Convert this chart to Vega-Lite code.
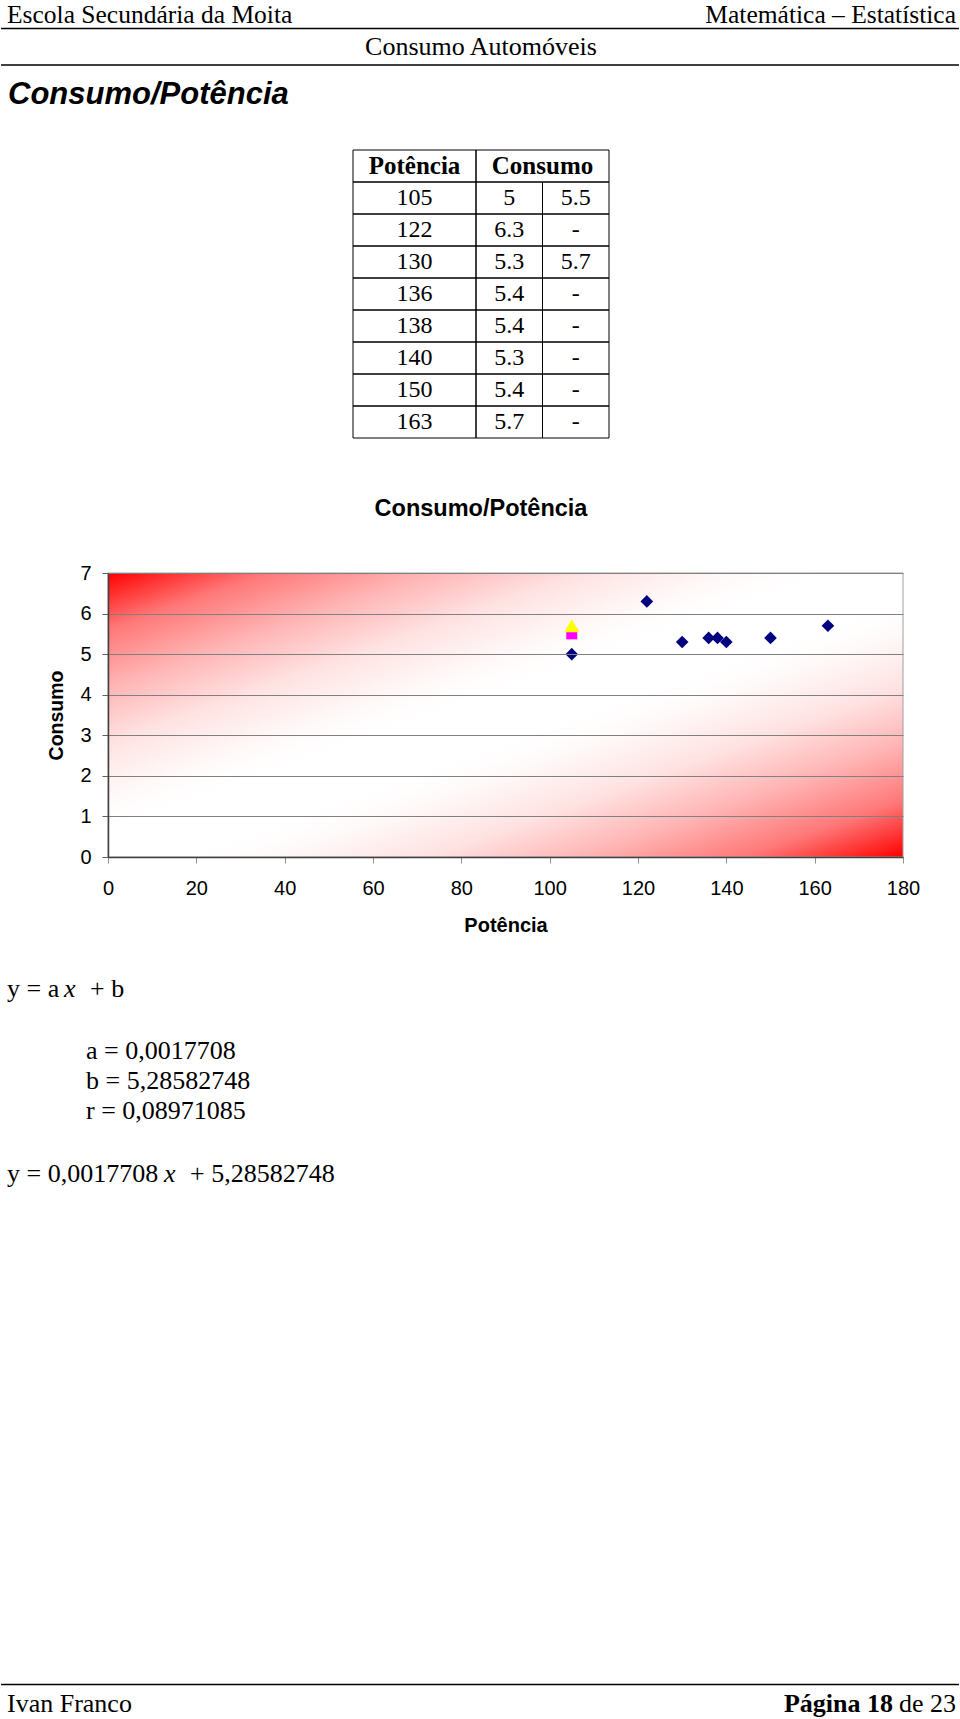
{
  "$schema": "https://vega.github.io/schema/vega-lite/v6.json",
  "padding": 0,
  "spacing": 0,
  "center": true,
  "bounds": "flush",
  "background": "white",
  "config": {
    "view": {"stroke": null},
    "text": {"font": "Liberation Serif", "fontSize": 26, "color": "black"}
  },
  "datasets": {
    "tabela": [
      {"potencia": 105, "c1": "5", "c2": "5.5"},
      {"potencia": 122, "c1": "6.3", "c2": "-"},
      {"potencia": 130, "c1": "5.3", "c2": "5.7"},
      {"potencia": 136, "c1": "5.4", "c2": "-"},
      {"potencia": 138, "c1": "5.4", "c2": "-"},
      {"potencia": 140, "c1": "5.3", "c2": "-"},
      {"potencia": 150, "c1": "5.4", "c2": "-"},
      {"potencia": 163, "c1": "5.7", "c2": "-"}
    ],
    "pontos": [
      {"potencia": 105, "consumo": 5, "serie": "Série 1"},
      {"potencia": 122, "consumo": 6.3, "serie": "Série 1"},
      {"potencia": 130, "consumo": 5.3, "serie": "Série 1"},
      {"potencia": 136, "consumo": 5.4, "serie": "Série 1"},
      {"potencia": 138, "consumo": 5.4, "serie": "Série 1"},
      {"potencia": 140, "consumo": 5.3, "serie": "Série 1"},
      {"potencia": 150, "consumo": 5.4, "serie": "Série 1"},
      {"potencia": 163, "consumo": 5.7, "serie": "Série 1"},
      {"potencia": 105, "consumo": 5.5, "serie": "Série 2"},
      {"potencia": 105, "consumo": 5.7, "serie": "Série 3"}
    ]
  },
  "vconcat": [
    {
      "width": 960,
      "height": 150,
      "data": {"values": [{}]},
      "layer": [
        {"mark": {"type": "text", "text": "Escola Secundária da Moita", "align": "left", "baseline": "alphabetic", "font": "Liberation Serif", "fontSize": 25.5},
         "encoding": {"x": {"value": 6}, "y": {"value": 22.8}}},
        {"mark": {"type": "text", "text": "Matemática – Estatística", "align": "right", "baseline": "alphabetic", "font": "Liberation Serif", "fontSize": 25.5},
         "encoding": {"x": {"value": 955}, "y": {"value": 22.8}}},
        {"mark": {"type": "rule", "color": "black", "strokeWidth": 1.5},
         "encoding": {"x": {"value": 0}, "x2": {"value": 958}, "y": {"value": 28.5}}},
        {"mark": {"type": "text", "text": "Consumo Automóveis", "align": "center", "baseline": "alphabetic", "font": "Liberation Serif", "fontSize": 26},
         "encoding": {"x": {"value": 480}, "y": {"value": 55}}},
        {"mark": {"type": "rule", "color": "black", "strokeWidth": 1.5},
         "encoding": {"x": {"value": 0}, "x2": {"value": 958}, "y": {"value": 65}}},
        {"mark": {"type": "text", "text": "Consumo/Potência", "align": "left", "baseline": "alphabetic", "font": "Liberation Sans", "fontSize": 31, "fontWeight": "bold", "fontStyle": "italic"},
         "encoding": {"x": {"value": 7}, "y": {"value": 103.5}}}
      ]
    },
    {
      "width": 256,
      "height": 423,
      "layer": [
        {
          "data": {"name": "tabela"},
          "mark": {"type": "rect", "filled": false, "color": "black", "strokeWidth": 1},
          "encoding": {
            "x": {"datum": 0, "type": "quantitative", "scale": {"domain": [0, 3.85], "nice": false, "zero": false}, "axis": null},
            "x2": {"datum": 1.85},
            "y": {"field": "potencia", "type": "ordinal", "scale": {"type": "band", "domain": ["cab", 105, 122, 130, 136, 138, 140, 150, 163], "paddingInner": 0, "paddingOuter": 0, "range": [0, 288]}, "axis": null}
          }
        },
        {
          "data": {"name": "tabela"},
          "mark": {"type": "rect", "filled": false, "color": "black", "strokeWidth": 1},
          "encoding": {
            "x": {"datum": 1.85, "type": "quantitative", "scale": {"domain": [0, 3.85], "nice": false, "zero": false}, "axis": null},
            "x2": {"datum": 2.85},
            "y": {"field": "potencia", "type": "ordinal", "scale": {"type": "band", "domain": ["cab", 105, 122, 130, 136, 138, 140, 150, 163], "paddingInner": 0, "paddingOuter": 0, "range": [0, 288]}, "axis": null}
          }
        },
        {
          "data": {"name": "tabela"},
          "mark": {"type": "rect", "filled": false, "color": "black", "strokeWidth": 1},
          "encoding": {
            "x": {"datum": 2.85, "type": "quantitative", "scale": {"domain": [0, 3.85], "nice": false, "zero": false}, "axis": null},
            "x2": {"datum": 3.85},
            "y": {"field": "potencia", "type": "ordinal", "scale": {"type": "band", "domain": ["cab", 105, 122, 130, 136, 138, 140, 150, 163], "paddingInner": 0, "paddingOuter": 0, "range": [0, 288]}, "axis": null}
          }
        },
        {
          "data": {"values": [{}]},
          "mark": {"type": "rect", "filled": false, "color": "black", "strokeWidth": 1},
          "encoding": {
            "x": {"datum": 0, "type": "quantitative", "scale": {"domain": [0, 3.85], "nice": false, "zero": false}, "axis": null},
            "x2": {"datum": 1.85},
            "y": {"datum": "cab", "type": "ordinal", "scale": {"type": "band", "domain": ["cab", 105, 122, 130, 136, 138, 140, 150, 163], "paddingInner": 0, "paddingOuter": 0, "range": [0, 288]}, "axis": null}
          }
        },
        {
          "data": {"values": [{}]},
          "mark": {"type": "rect", "filled": false, "color": "black", "strokeWidth": 1},
          "encoding": {
            "x": {"datum": 1.85, "type": "quantitative", "scale": {"domain": [0, 3.85], "nice": false, "zero": false}, "axis": null},
            "x2": {"datum": 3.85},
            "y": {"datum": "cab", "type": "ordinal", "scale": {"type": "band", "domain": ["cab", 105, 122, 130, 136, 138, 140, 150, 163], "paddingInner": 0, "paddingOuter": 0, "range": [0, 288]}, "axis": null}
          }
        },
        {
          "data": {"name": "tabela"},
          "mark": {"type": "text", "font": "Liberation Serif", "fontSize": 24, "baseline": "middle", "align": "center"},
          "encoding": {
            "x": {"datum": 0.925, "type": "quantitative", "scale": {"domain": [0, 3.85], "nice": false, "zero": false}, "axis": null},
            "y": {"field": "potencia", "type": "ordinal", "scale": {"type": "band", "domain": ["cab", 105, 122, 130, 136, 138, 140, 150, 163], "paddingInner": 0, "paddingOuter": 0, "range": [0, 288]}, "axis": null},
            "text": {"field": "potencia", "type": "nominal"}
          }
        },
        {
          "data": {"name": "tabela"},
          "mark": {"type": "text", "font": "Liberation Serif", "fontSize": 24, "baseline": "middle", "align": "center"},
          "encoding": {
            "x": {"datum": 2.35, "type": "quantitative", "scale": {"domain": [0, 3.85], "nice": false, "zero": false}, "axis": null},
            "y": {"field": "potencia", "type": "ordinal", "scale": {"type": "band", "domain": ["cab", 105, 122, 130, 136, 138, 140, 150, 163], "paddingInner": 0, "paddingOuter": 0, "range": [0, 288]}, "axis": null},
            "text": {"field": "c1", "type": "nominal"}
          }
        },
        {
          "data": {"name": "tabela"},
          "mark": {"type": "text", "font": "Liberation Serif", "fontSize": 24, "baseline": "middle", "align": "center"},
          "encoding": {
            "x": {"datum": 3.35, "type": "quantitative", "scale": {"domain": [0, 3.85], "nice": false, "zero": false}, "axis": null},
            "y": {"field": "potencia", "type": "ordinal", "scale": {"type": "band", "domain": ["cab", 105, 122, 130, 136, 138, 140, 150, 163], "paddingInner": 0, "paddingOuter": 0, "range": [0, 288]}, "axis": null},
            "text": {"field": "c2", "type": "nominal"}
          }
        },
        {
          "data": {"values": [{}]},
          "mark": {"type": "text", "text": "Potência", "font": "Liberation Serif", "fontSize": 25, "fontWeight": "bold", "baseline": "middle", "align": "center"},
          "encoding": {
            "x": {"datum": 0.925, "type": "quantitative", "scale": {"domain": [0, 3.85], "nice": false, "zero": false}, "axis": null},
            "y": {"datum": "cab", "type": "ordinal", "scale": {"type": "band", "domain": ["cab", 105, 122, 130, 136, 138, 140, 150, 163], "paddingInner": 0, "paddingOuter": 0, "range": [0, 288]}, "axis": null}
          }
        },
        {
          "data": {"values": [{}]},
          "mark": {"type": "text", "text": "Consumo", "font": "Liberation Serif", "fontSize": 25, "fontWeight": "bold", "baseline": "middle", "align": "center"},
          "encoding": {
            "x": {"datum": 2.85, "type": "quantitative", "scale": {"domain": [0, 3.85], "nice": false, "zero": false}, "axis": null},
            "y": {"datum": "cab", "type": "ordinal", "scale": {"type": "band", "domain": ["cab", 105, 122, 130, 136, 138, 140, 150, 163], "paddingInner": 0, "paddingOuter": 0, "range": [0, 288]}, "axis": null}
          }
        }
      ]
    },
    {
      "width": 844,
      "height": 284,
      "view": {"stroke": null},
      "title": {"text": "Consumo/Potência", "font": "Liberation Sans", "fontSize": 23.5, "fontWeight": "bold", "color": "black", "anchor": "middle", "frame": "group", "baseline": "alphabetic", "offset": 24},
      "layer": [
        {
          "data": {"values": [{}]},
          "mark": {
            "type": "rect",
            "stroke": "#a0a0a0",
            "strokeWidth": 1,
            "fill": {
              "gradient": "linear", "x1": 0, "y1": 0, "x2": 1, "y2": 1,
              "stops": [
                {"offset": 0, "color": "#ff0000"},
                {"offset": 0.1, "color": "#ff7878"},
                {"offset": 0.2, "color": "#ffb4b4"},
                {"offset": 0.3, "color": "#ffe2e2"},
                {"offset": 0.4, "color": "#fffafa"},
                {"offset": 0.45, "color": "#ffffff"},
                {"offset": 0.55, "color": "#ffffff"},
                {"offset": 0.6, "color": "#fffafa"},
                {"offset": 0.7, "color": "#ffe2e2"},
                {"offset": 0.8, "color": "#ffb4b4"},
                {"offset": 0.9, "color": "#ff7878"},
                {"offset": 1, "color": "#ff0000"}
              ]
            }
          },
          "encoding": {
            "x": {"datum": 0, "type": "quantitative", "title": "Potência", "scale": {"domain": [0, 180], "range": [49, 844], "nice": false, "zero": false}},
            "x2": {"datum": 180},
            "y": {"datum": 0, "type": "quantitative", "title": "Consumo", "scale": {"domain": [0, 7], "nice": false, "zero": false}},
            "y2": {"datum": 7}
          }
        },
        {
          "data": {"name": "pontos"},
          "mark": {"type": "point", "filled": true, "opacity": 1, "strokeWidth": 0},
          "encoding": {
            "x": {
              "field": "potencia", "type": "quantitative", "title": "Potência",
              "scale": {"domain": [0, 180], "range": [49, 844], "nice": false, "zero": false},
              "axis": {"values": [0, 20, 40, 60, 80, 100, 120, 140, 160, 180], "grid": false, "zindex": 1, "labelFont": "Liberation Sans", "labelFontSize": 20, "labelColor": "black", "labelFlush": false, "labelOverlap": false, "tickSize": 6, "tickColor": "#909090", "domainColor": "#404040", "domainWidth": 1.5, "labelPadding": 15, "titleFont": "Liberation Sans", "titleFontSize": 20, "titleFontWeight": "bold", "titleColor": "black", "titlePadding": 17}
            },
            "y": {
              "field": "consumo", "type": "quantitative", "title": "Consumo",
              "scale": {"domain": [0, 7], "nice": false, "zero": false},
              "axis": {"values": [0, 1, 2, 3, 4, 5, 6, 7], "offset": -49, "zindex": 1, "grid": true, "gridColor": "#808080", "gridWidth": 1, "labelFont": "Liberation Sans", "labelFontSize": 20, "labelColor": "black", "labelFlush": false, "labelOverlap": false, "tickSize": 6, "tickColor": "#606060", "domainColor": "#404040", "domainWidth": 1.5, "labelPadding": 11, "titleFont": "Liberation Sans", "titleFontSize": 19.5, "titleFontWeight": "bold", "titleColor": "black", "titlePadding": 13}
            },
            "color": {"field": "serie", "type": "nominal", "scale": {"domain": ["Série 1", "Série 2", "Série 3"], "range": ["#000080", "#ff00ff", "#ffff00"]}, "legend": null},
            "shape": {"field": "serie", "type": "nominal", "scale": {"domain": ["Série 1", "Série 2", "Série 3"], "range": ["diamond", "square", "triangle-up"]}, "legend": null},
            "size": {"field": "serie", "type": "nominal", "scale": {"type": "ordinal", "domain": ["Série 1", "Série 2", "Série 3"], "range": [160, 121, 230]}, "legend": null}
          }
        }
      ]
    },
    {
      "width": 960,
      "height": 862,
      "data": {"values": [{}]},
      "layer": [
        {"mark": {"type": "text", "text": "y = a", "align": "left", "baseline": "alphabetic"}, "encoding": {"x": {"value": 6}, "y": {"value": 140}}},
        {"mark": {"type": "text", "text": "x", "align": "left", "baseline": "alphabetic", "fontStyle": "italic"}, "encoding": {"x": {"value": 63}, "y": {"value": 140}}},
        {"mark": {"type": "text", "text": "+ b", "align": "left", "baseline": "alphabetic"}, "encoding": {"x": {"value": 89}, "y": {"value": 140}}},
        {"mark": {"type": "text", "text": "a = 0,0017708", "align": "left", "baseline": "alphabetic"}, "encoding": {"x": {"value": 85}, "y": {"value": 202}}},
        {"mark": {"type": "text", "text": "b = 5,28582748", "align": "left", "baseline": "alphabetic"}, "encoding": {"x": {"value": 85}, "y": {"value": 232}}},
        {"mark": {"type": "text", "text": "r = 0,08971085", "align": "left", "baseline": "alphabetic"}, "encoding": {"x": {"value": 85}, "y": {"value": 262}}},
        {"mark": {"type": "text", "text": "y = 0,0017708", "align": "left", "baseline": "alphabetic"}, "encoding": {"x": {"value": 6}, "y": {"value": 325}}},
        {"mark": {"type": "text", "text": "x", "align": "left", "baseline": "alphabetic", "fontStyle": "italic"}, "encoding": {"x": {"value": 163}, "y": {"value": 325}}},
        {"mark": {"type": "text", "text": "+ 5,28582748", "align": "left", "baseline": "alphabetic"}, "encoding": {"x": {"value": 189}, "y": {"value": 325}}},
        {"mark": {"type": "rule", "color": "black", "strokeWidth": 1.5}, "encoding": {"x": {"value": 0}, "x2": {"value": 958}, "y": {"value": 827.5}}},
        {"mark": {"type": "text", "text": "Ivan Franco", "align": "left", "baseline": "alphabetic"}, "encoding": {"x": {"value": 6}, "y": {"value": 855}}},
        {"mark": {"type": "text", "text": "de 23", "align": "right", "baseline": "alphabetic"}, "encoding": {"x": {"value": 955}, "y": {"value": 855}}},
        {"mark": {"type": "text", "text": "Página 18", "align": "right", "baseline": "alphabetic", "fontWeight": "bold"}, "encoding": {"x": {"value": 892}, "y": {"value": 855}}}
      ]
    }
  ]
}
